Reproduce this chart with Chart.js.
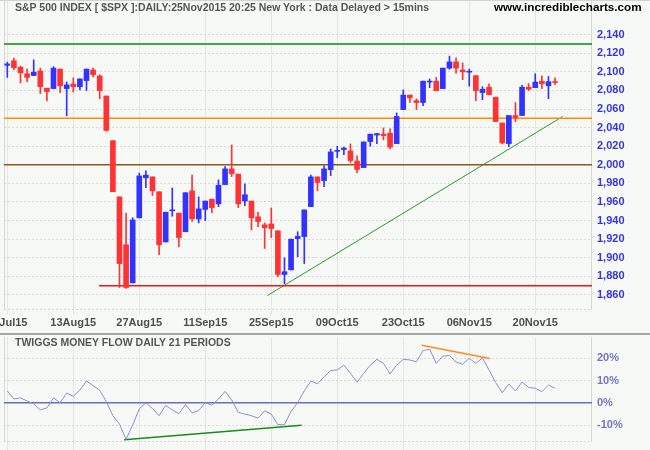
<!DOCTYPE html>
<html>
<head>
<meta charset="utf-8">
<title>S&amp;P 500 INDEX - Daily</title>
<script src="https://cdn.jsdelivr.net/npm/chart.js@4.4.0/dist/chart.umd.min.js"></script>
<style>
  html, body { margin: 0; padding: 0; background: #f7f9f7; }
  #wrap { position: relative; width: 650px; height: 450px; overflow: hidden; background: #f7f9f7; }
  #priceChart { position: absolute; left: 0; top: 0; }
  #flowChart { position: absolute; left: 0; top: 335px; }
  .topline { position: absolute; left: 0; top: 0; width: 650px; height: 1px; background: #d2d2d2; }
  .sep { position: absolute; left: 0; top: 333px; width: 650px; height: 2px; background: #a4a4a4; }
  .lbl { position: absolute; white-space: nowrap; font-family: "Liberation Sans", Arial, sans-serif; font-weight: bold; }
  #title { left: 15px; top: 1px; font-size: 10.5px; color: #555; }
  #site { left: 494px; top: 0px; font-size: 11.7px; color: #000; }
  #flowTitle { left: 15px; top: 336px; font-size: 10.5px; color: #555; }
</style>
</head>
<body>
<div id="wrap">
  <canvas id="priceChart" width="650" height="333"></canvas>
  <canvas id="flowChart" width="650" height="115"></canvas>
  <div class="topline"></div>
  <div class="sep"></div>
  <div class="lbl" id="title">S&amp;P 500 INDEX [ $SPX ]:DAILY:25Nov2015 20:25 New York : Data Delayed &gt; 15mins</div>
  <div class="lbl" id="site">www.incrediblecharts.com</div>
  <div class="lbl" id="flowTitle">TWIGGS MONEY FLOW DAILY 21 PERIODS</div>
</div>
<script>
/* ============================================
   S&P 500 日线蜡烛图 + Twiggs Money Flow
   ============================================ */

/* ---------- 数据 (30Jul15 .. 25Nov15, 每个交易日一根) ---------- */
var OPENS = [
  2107.0, 2112.0, 2105.0, 2098.0, 2096.0, 2101.0, 2082.4, 2082.0, 2103.0, 2082.0,
  2087.0, 2084.0, 2090.6, 2102.0, 2095.6, 2074.0, 2026.0, 1965.5, 1914.0, 1873.0,
  1943.0, 1986.0, 1987.0, 1971.0, 1917.0, 1950.5, 1948.0, 1928.0, 1972.0, 1941.8,
  1952.0, 1963.0, 1958.0, 1978.7, 1995.6, 1990.0, 1961.0, 1961.0, 1944.0, 1935.4,
  1936.4, 1929.0, 1882.0, 1887.0, 1920.6, 1922.8, 1955.0, 1987.0, 1983.0, 1994.8,
  2014.5, 2016.4, 2015.0, 2004.0, 1997.0, 2025.0, 2032.0, 2033.0, 2034.0, 2022.8,
  2059.4, 2075.0, 2069.0, 2067.0, 2089.0, 2090.0, 2082.0, 2104.0, 2110.7, 2102.0,
  2099.6, 2096.0, 2077.7, 2083.5, 2072.7, 2045.0, 2022.8, 2053.0, 2053.0, 2083.5,
  2083.0, 2090.0, 2085.0, 2089.0
];
var HIGHS = [
  2110.5, 2114.7, 2106.0, 2103.0, 2113.0, 2104.0, 2082.4, 2105.6, 2103.0, 2089.0,
  2093.5, 2092.4, 2103.0, 2104.0, 2097.0, 2074.0, 2026.0, 1965.5, 1948.0, 1943.0,
  1991.0, 1993.4, 1987.0, 1971.0, 1949.0, 1975.0, 1948.0, 1970.0, 1989.0, 1965.5,
  1961.0, 1963.0, 1983.8, 1998.0, 2021.4, 1990.0, 1979.5, 1961.0, 1949.0, 1937.5,
  1953.6, 1929.0, 1900.0, 1920.0, 1928.0, 1951.5, 1989.0, 1987.0, 1999.0, 2017.0,
  2020.0, 2019.0, 2022.5, 2009.6, 2024.6, 2033.0, 2033.6, 2039.7, 2038.6, 2055.8,
  2080.6, 2075.0, 2071.0, 2090.0, 2092.4, 2094.0, 2104.0, 2117.0, 2115.0, 2109.6,
  2103.0, 2096.0, 2084.0, 2087.0, 2072.7, 2045.0, 2053.0, 2067.0, 2085.6, 2087.4,
  2098.0, 2095.6, 2095.0, 2093.5
];
var LOWS = [
  2094.0, 2102.4, 2088.0, 2089.5, 2096.0, 2076.6, 2068.7, 2082.0, 2077.7, 2052.6,
  2078.4, 2080.6, 2080.0, 2094.5, 2071.0, 2036.0, 1971.0, 1868.0, 1867.0, 1872.8,
  1942.8, 1975.5, 1967.0, 1903.4, 1917.0, 1944.7, 1912.0, 1928.0, 1939.0, 1937.5,
  1940.0, 1948.6, 1955.0, 1978.7, 1987.3, 1954.0, 1956.0, 1930.0, 1933.5, 1910.0,
  1921.7, 1879.7, 1872.0, 1887.0, 1901.0, 1893.7, 1955.0, 1972.0, 1976.5, 1988.4,
  2007.7, 2011.0, 2002.4, 1991.6, 1997.0, 2020.0, 2022.8, 2026.8, 2017.0, 2022.8,
  2059.4, 2067.0, 2059.4, 2063.7, 2083.0, 2079.8, 2082.0, 2102.8, 2098.5, 2091.6,
  2084.6, 2069.0, 2070.0, 2075.5, 2046.5, 2022.5, 2019.6, 2046.5, 2053.0, 2079.8,
  2083.0, 2082.0, 2071.0, 2086.3
];
var CLOSES = [
  2108.6, 2104.5, 2099.0, 2094.0, 2099.6, 2084.0, 2078.8, 2104.0, 2085.0, 2086.0,
  2084.0, 2092.4, 2103.0, 2097.0, 2079.8, 2037.0, 1971.0, 1893.7, 1868.0, 1940.7,
  1988.0, 1989.0, 1972.0, 1914.0, 1949.0, 1951.1, 1921.7, 1970.0, 1942.0, 1952.6,
  1961.0, 1954.0, 1978.0, 1995.6, 1990.5, 1958.0, 1967.8, 1943.0, 1939.0, 1932.4,
  1931.4, 1882.0, 1885.0, 1920.0, 1923.0, 1951.5, 1987.0, 1981.0, 1995.6, 2013.9,
  2015.0, 2018.0, 2004.5, 1995.0, 2024.6, 2033.0, 2033.6, 2031.4, 2019.0, 2052.0,
  2075.0, 2072.0, 2067.0, 2090.0, 2089.5, 2079.8, 2104.0, 2110.7, 2104.0, 2100.0,
  2100.0, 2079.8, 2081.3, 2075.5, 2046.5, 2023.5, 2053.0, 2050.8, 2083.5, 2081.3,
  2089.0, 2087.3, 2089.5, 2088.5
];

/* Twiggs Money Flow 21 (%) */
var FLOW = [
  5.3, 1.7, 2.2, 0.8, -0.5, -3.2, -2.3, 2.2, 0.0, 4.4,
  2.9, 5.7, 9.8, 7.7, 5.6, 0.5, -5.8, -9.6, -16.4, -9.9,
  -2.7, 0.0, -2.6, -5.8, -1.2, -3.2, -4.9, -0.8, -4.5, -3.5,
  0.1, -1.1, 1.7, 5.1, 1.3, -4.3, -5.1, -5.8, -6.9, -3.6,
  -5.1, -9.8, -9.8, -3.9, 0.1, 5.3, 9.7, 8.5, 11.6, 14.5,
  14.7, 16.9, 13.2, 9.2, 13.2, 16.9, 19.5, 17.7, 12.9, 16.9,
  19.5, 19.2, 18.4, 23.4, 24.0, 17.7, 20.9, 21.2, 18.3, 17.3,
  19.9, 17.7, 20.1, 14.7, 9.1, 4.5, 8.4, 5.3, 9.3, 6.9,
  6.5, 5.0, 7.9, 6.5
];

/* 横轴日期标签 (交易日序号) */
var DATE_TICKS = [0, 10, 20, 30, 40, 50, 60, 70, 80];
var DATE_LABELS = ["30Jul15", "13Aug15", "27Aug15", "11Sep15", "25Sep15", "09Oct15", "23Oct15", "06Nov15", "20Nov15"];

/* 纵轴刻度 */
var PRICE_TICKS = [1860, 1880, 1900, 1920, 1940, 1960, 1980, 2000, 2020, 2040, 2060, 2080, 2100, 2120, 2140];
var FLOW_TICKS = [-10, 0, 10, 20];

/* 画线: 水平线与趋势线 (序号, 数值) */
var RESISTANCE_LEVEL = 2130;
var MIDDLE_LEVEL = 2050;
var ROUND_LEVEL = 2000;
var SUPPORT_LEVEL = 1870;
var SUPPORT_START = 13.9;
var TREND_X = [39.4, 84.15];
var TREND_Y = [1859.3, 2051.9];
var FLOW_LOW_X = [17.7, 44.6];
var FLOW_LOW_Y = [-16.6, -10.1];
var FLOW_HIGH_X = [62.8, 73.1];
var FLOW_HIGH_Y = [25.8, 19.9];

(function () {
  "use strict";

  var X_MIN = -0.5;
  var X_MAX = 88.6;
  var UP = "#3333ff";
  var DOWN = "#ff3333";
  var FONT = '"Liberation Sans", Arial, sans-serif';

  Chart.defaults.font.family = FONT;
  Chart.defaults.animation = false;

  function segment(x0, y0, x1, y1) {
    return [{ x: x0, y: y0 }, { x: x1, y: y1 }];
  }

  function lineSet(data, color, width) {
    return {
      type: "line",
      data: data,
      borderColor: color,
      borderWidth: width,
      pointRadius: 0,
      fill: false,
      order: 2
    };
  }

  function fixedTicks(list) {
    return function (scale) {
      scale.ticks = list.map(function (v) { return { value: v }; });
    };
  }

  /* 去掉标签带来的自动留白, 让绘图区贴齐 */
  function noPadding(s) {
    s.paddingLeft = 0;
    s.paddingRight = 0;
    s.paddingTop = 0;
    s.paddingBottom = 0;
  }

  /* 图框: 左右实线, 底部虚线 */
  var framePlugin = {
    id: "frame",
    beforeDatasetsDraw: function (chart) {
      var a = chart.chartArea;
      var ctx = chart.ctx;
      ctx.save();
      ctx.strokeStyle = "#d6d6d6";
      ctx.lineWidth = 1;
      ctx.beginPath();
      ctx.moveTo(a.left + 0.5, a.top);
      ctx.lineTo(a.left + 0.5, a.bottom);
      ctx.moveTo(a.right - 0.5, a.top);
      ctx.lineTo(a.right - 0.5, a.bottom);
      ctx.stroke();
      ctx.setLineDash([2, 2]);
      ctx.beginPath();
      ctx.moveTo(a.left, a.bottom - 0.5);
      ctx.lineTo(a.right, a.bottom - 0.5);
      ctx.stroke();
      ctx.restore();
    }
  };

  function xScale(showLabels, tickLen) {
    return {
      type: "linear",
      min: X_MIN,
      max: X_MAX,
      offset: false,
      afterBuildTicks: fixedTicks(DATE_TICKS),
      afterFit: function (s) { s.height = showLabels ? 23 : 8; noPadding(s); },
      grid: { offset: false, color: "#e4e6e4", lineWidth: 1, drawTicks: true, tickLength: tickLen, tickColor: "#e4e6e4" },
      border: { display: false },
      ticks: {
        display: showLabels,
        autoSkip: false,
        maxRotation: 0,
        padding: 1,
        color: "#4e4e4e",
        font: { size: 11, weight: "bold" },
        callback: function (v, i) { return DATE_LABELS[i]; }
      }
    };
  }

  function yScale(min, max, ticks, color, fmt) {
    return {
      type: "linear",
      position: "right",
      min: min,
      max: max,
      afterBuildTicks: fixedTicks(ticks),
      afterFit: function (s) { s.width = 58; noPadding(s); },
      grid: { color: "#d8dad8", drawTicks: false },
      border: { display: false, dash: [2, 2] },
      ticks: {
        padding: 5,
        color: color,
        font: { size: 11, weight: "bold" },
        callback: fmt
      }
    };
  }

  /* ---------- 价格图 ---------- */
  function renderPriceChart() {
    var colors = CLOSES.map(function (c, i) { return c >= OPENS[i] ? UP : DOWN; });

    new Chart(document.getElementById("priceChart"), {
      type: "bar",
      data: {
        datasets: [
          {
            data: LOWS.map(function (l, i) { return { x: i, y: [l, HIGHS[i]] }; }),
            backgroundColor: colors,
            barThickness: 1,
            grouped: false,
            order: 1
          },
          {
            data: OPENS.map(function (o, i) { return { x: i, y: [o, CLOSES[i]] }; }),
            backgroundColor: colors,
            barThickness: 5,
            minBarLength: 1,
            grouped: false,
            order: 0
          },
          lineSet(segment(X_MIN, RESISTANCE_LEVEL, X_MAX, RESISTANCE_LEVEL), "#0a8a0a", 1.5),
          lineSet(segment(X_MIN, MIDDLE_LEVEL, X_MAX, MIDDLE_LEVEL), "#ff8c00", 1.5),
          lineSet(segment(X_MIN, ROUND_LEVEL, X_MAX, ROUND_LEVEL), "#8b5a1a", 1.5),
          lineSet(segment(SUPPORT_START, SUPPORT_LEVEL, X_MAX, SUPPORT_LEVEL), "#ff1010", 1.5),
          lineSet(segment(TREND_X[0], TREND_Y[0], TREND_X[1], TREND_Y[1]), "#2a9a2a", 1)
        ]
      },
      options: {
        responsive: false,
        layout: { autoPadding: false, padding: { left: 4, top: 0, right: 0, bottom: 0 } },
        plugins: { legend: { display: false }, tooltip: { enabled: false } },
        events: [],
        scales: {
          x: xScale(true, 5),
          y: yScale(1843.8, 2177.3, PRICE_TICKS, "#3434e6", function (v) { return v.toLocaleString("en-US"); })
        }
      },
      plugins: [framePlugin]
    });
  }

  /* ---------- 资金流图 ---------- */
  function renderFlowChart() {
    new Chart(document.getElementById("flowChart"), {
      type: "line",
      data: {
        datasets: [
          {
            data: FLOW.map(function (v, i) { return { x: i, y: v }; }),
            borderColor: "#8c8cd4",
            borderWidth: 1,
            pointRadius: 0,
            tension: 0,
            order: 0
          },
          lineSet(segment(X_MIN, 0, X_MAX, 0), "#6b6bc8", 1.5),
          lineSet(segment(FLOW_LOW_X[0], FLOW_LOW_Y[0], FLOW_LOW_X[1], FLOW_LOW_Y[1]), "#1a8a1a", 1.5),
          lineSet(segment(FLOW_HIGH_X[0], FLOW_HIGH_Y[0], FLOW_HIGH_X[1], FLOW_HIGH_Y[1]), "#ff8c1a", 1.5)
        ]
      },
      options: {
        responsive: false,
        layout: { autoPadding: false, padding: { left: 4, top: 2, right: 0, bottom: 0 } },
        plugins: { legend: { display: false }, tooltip: { enabled: false } },
        events: [],
        scales: {
          x: xScale(false, 8),
          y: yScale(-17.6, 29.5, FLOW_TICKS, "#7474c0", function (v) { return v + "%"; })
        }
      },
      plugins: [framePlugin]
    });
  }

  renderPriceChart();
  renderFlowChart();
})();
</script>
</body>
</html>
